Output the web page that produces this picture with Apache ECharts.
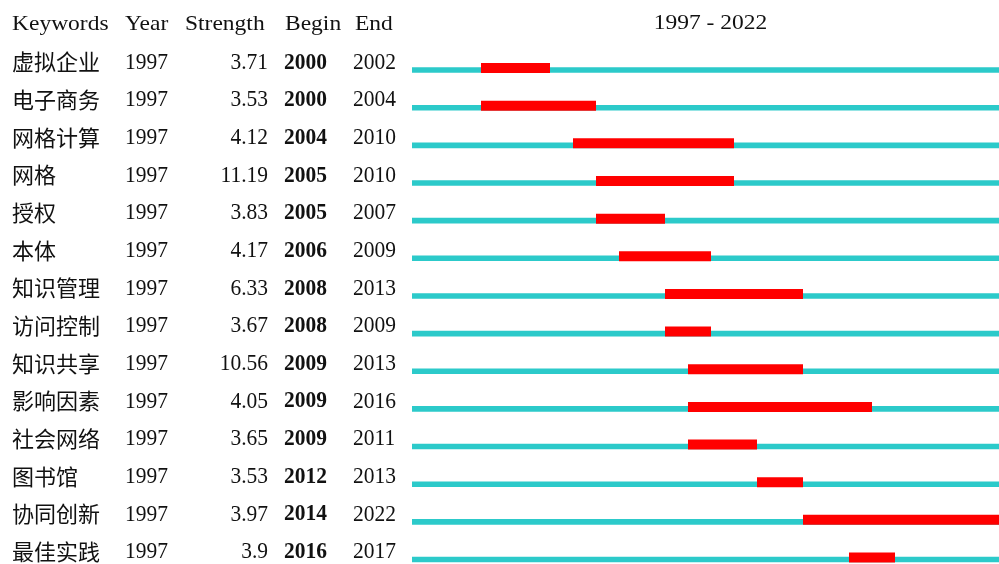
<!DOCTYPE html>
<html>
<head>
<meta charset="utf-8">
<script src="https://cdn.jsdelivr.net/npm/echarts@6/dist/echarts.min.js"></script>
<style>
html,body{margin:0;padding:0;background:#fff;}
#chart{width:999px;height:564px;}
</style>
</head>
<body>
<div id="chart"></div>
<script>
const keywords = ['虚拟企业','电子商务','网格计算','网格','授权','本体','知识管理','访问控制','知识共享','影响因素','社会网络','图书馆','协同创新','最佳实践'];
const years = [1997,1997,1997,1997,1997,1997,1997,1997,1997,1997,1997,1997,1997,1997];
const strengths = ['3.71','3.53','4.12','11.19','3.83','4.17','6.33','3.67','10.56','4.05','3.65','3.53','3.97','3.9'];
const begins = [2000,2000,2004,2005,2005,2006,2008,2008,2009,2009,2009,2012,2014,2016];
const ends = [2002,2004,2010,2010,2007,2009,2013,2009,2013,2016,2011,2013,2022,2017];
const headers = ['Keywords','Year','Strength','Begin','End'];
const rangeStart = 1997;
const rangeEnd = 2022;

const SERIF = '"Liberation Serif","Times New Roman","Noto Sans CJK SC",serif';
const CJK = '"Noto Sans CJK SC",sans-serif';
const CYAN = '#2ccaca';
const RED = '#ff0000';
const TXT = '#111111';

const chart = echarts.init(document.getElementById('chart'));
const rows = keywords.map((k, i) => i);

function txt(x, y, text, align, bold, size, family, sx, sy) {
  return {
    type: 'text', x: x, y: y, scaleX: sx || 1, scaleY: sy || 1, silent: true,
    style: {
      text: text, x: 0, y: 0, align: align, verticalAlign: 'middle',
      font: (bold ? 'bold ' : '') + size + 'px ' + (family || SERIF), fill: TXT
    }
  };
}

const HY = 24.5;
const option = {
  animation: false,
  backgroundColor: '#ffffff',
  grid: { left: 412, top: 51.2, width: 598, height: 527.1, containLabel: false, outerBoundsMode: 'none' },
  xAxis: { type: 'value', min: rangeStart, max: rangeEnd + 1, show: false },
  yAxis: { type: 'category', data: keywords, inverse: true, show: false },
  graphic: [
    txt(12, HY, headers[0], 'left', false, 23.5, SERIF, 1, 0.87),
    txt(125, HY, headers[1], 'left', false, 23.5, SERIF, 1, 0.87),
    txt(185, HY, headers[2], 'left', false, 23.5, SERIF, 1, 0.87),
    txt(285, HY, headers[3], 'left', false, 23.5, SERIF, 1, 0.87),
    txt(355, HY, headers[4], 'left', false, 23.5, SERIF, 1, 0.87),
    txt(710.5, 23.5, rangeStart + ' - ' + rangeEnd, 'center', false, 23.5, SERIF, 1, 0.93)
  ],
  series: [
    {
      type: 'custom', clip: false, z: 2,
      data: rows.map(i => [rangeStart, rangeEnd + 1, i]),
      renderItem: function (params, api) {
        const p0 = api.coord([api.value(0), api.value(2)]);
        const p1 = api.coord([api.value(1), api.value(2)]);
        return { type: 'rect', shape: { x: p0[0], y: p0[1] - 2.8, width: p1[0] - p0[0], height: 5.6 }, style: { fill: CYAN } };
      }
    },
    {
      type: 'custom', clip: false, z: 3,
      data: rows.map(i => [begins[i], ends[i] + 1, i]),
      renderItem: function (params, api) {
        const p0 = api.coord([api.value(0), api.value(2)]);
        const p1 = api.coord([api.value(1), api.value(2)]);
        return { type: 'rect', shape: { x: p0[0], y: p0[1] - 7, width: p1[0] - p0[0], height: 10 }, style: { fill: RED } };
      }
    },
    {
      type: 'custom', clip: false, z: 4,
      data: rows.map(i => [rangeStart, i]),
      renderItem: function (params, api) {
        const i = api.value(1);
        const p = api.coord([api.value(0), i]);
        const y = p[1] - 7.5;
        return {
          type: 'group',
          children: [
            txt(12, y - 0.5, keywords[i], 'left', false, 22, CJK),
            txt(125, y, String(years[i]), 'left', false, 21.5, SERIF, 1, 1.1),
            txt(268, y, strengths[i], 'right', false, 21.5, SERIF, 1, 1.1),
            txt(284, y, String(begins[i]), 'left', true, 21.5, SERIF, 1, 1.1),
            txt(353, y, String(ends[i]), 'left', false, 21.5, SERIF, 1, 1.1)
          ]
        };
      }
    }
  ]
};
chart.setOption(option);
</script>
</body>
</html>
